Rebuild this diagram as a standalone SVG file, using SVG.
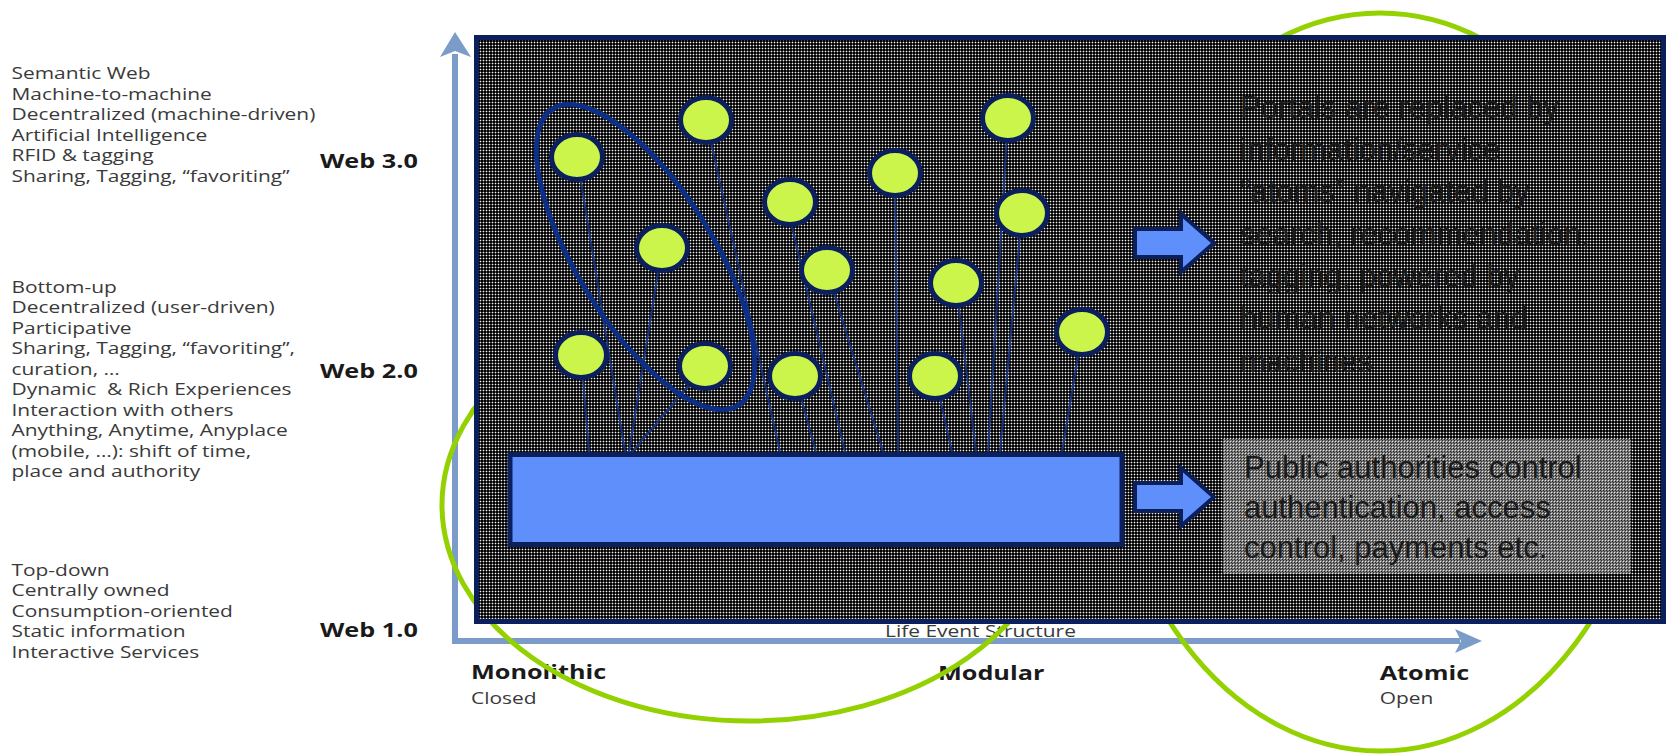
<svg xmlns="http://www.w3.org/2000/svg" width="1668" height="755" viewBox="0 0 1668 755">
<defs>
<style>
.lt{font-family:"Open Sans","Liberation Sans",sans-serif;font-size:15.5px;fill:#3a3a3a}
.wb{font-family:"Open Sans","Liberation Sans",sans-serif;font-size:18.7px;font-weight:700;fill:#1a1a1a}
.bt{font-family:"Liberation Sans",Arial,sans-serif;font-size:31px;fill:#1a1a1a}
.dot{fill:#cbf54b;stroke:#0a1f5c;stroke-width:5}
.stem{stroke:#16347f;stroke-width:2;fill:none}
.green{fill:none;stroke:#93d100;stroke-width:5}
.arrow{fill:#5f8ffb;stroke:#0a1f5c;stroke-width:4;stroke-linejoin:miter}
.axis{stroke:#7b9cc8;stroke-width:6;fill:none}
</style>
<pattern id="mesh" x="0" y="0" width="3" height="3" patternUnits="userSpaceOnUse">
<rect width="3" height="3" fill="#000"/>
<rect x="0" y="0" width="3" height="1" fill="#444"/>
<rect x="0" y="0" width="1" height="3" fill="#444"/>
<rect x="0" y="0" width="1" height="1" fill="#f0f0f0"/>
</pattern>
<pattern id="mesh2" x="0" y="0" width="3" height="3" patternUnits="userSpaceOnUse">
<rect width="3" height="3" fill="#7c7c7c"/>
<rect x="0" y="0" width="1" height="1" fill="#e6e6e6"/>
<rect x="1" y="1" width="1" height="1" fill="#222"/>
<rect x="2" y="2" width="1" height="1" fill="#333"/>
</pattern>
</defs>
<rect width="1668" height="755" fill="#fff"/>

<g id="left-labels" transform="scale(1.35 1)">
<g id="web3-text">
<text class="lt" x="8.5" y="79">Semantic Web</text>
<text class="lt" x="8.5" y="100">Machine-to-machine</text>
<text class="lt" x="8.5" y="120">Decentralized (machine-driven)</text>
<text class="lt" x="8.5" y="141">Artificial Intelligence</text>
<text class="lt" x="8.5" y="161">RFID &amp; tagging</text>
<text class="lt" x="8.5" y="182">Sharing, Tagging, “favoriting”</text>
<text class="wb" x="237" y="168">Web 3.0</text>
</g>
<g id="web2-text">
<text class="lt" x="8.5" y="293">Bottom-up</text>
<text class="lt" x="8.5" y="313.5">Decentralized (user-driven)</text>
<text class="lt" x="8.5" y="334">Participative</text>
<text class="lt" x="8.5" y="354.5">Sharing, Tagging, “favoriting”,</text>
<text class="lt" x="8.5" y="375">curation, …</text>
<text class="lt" x="8.5" y="395.5">Dynamic &#160;&amp; Rich Experiences</text>
<text class="lt" x="8.5" y="416">Interaction with others</text>
<text class="lt" x="8.5" y="436.5">Anything, Anytime, Anyplace</text>
<text class="lt" x="8.5" y="457">(mobile, …): shift of time,</text>
<text class="lt" x="8.5" y="477.5">place and authority</text>
<text class="wb" x="237" y="378">Web 2.0</text>
</g>
<g id="web1-text">
<text class="lt" x="8.5" y="576">Top-down</text>
<text class="lt" x="8.5" y="596.5">Centrally owned</text>
<text class="lt" x="8.5" y="617">Consumption-oriented</text>
<text class="lt" x="8.5" y="637.5">Static information</text>
<text class="lt" x="8.5" y="658">Interactive Services</text>
<text class="wb" x="237" y="637">Web 1.0</text>
</g>
<g id="x-labels">
<text class="lt" x="655.6" y="637">Life Event Structure</text>
<text class="wb" x="348.9" y="679">Monolithic</text>
<text class="lt" x="348.9" y="704">Closed</text>
<text class="wb" x="694.8" y="680">Modular</text>
<text class="wb" x="1022" y="680">Atomic</text>
<text class="lt" x="1022" y="704">Open</text>
</g>
</g>

<g id="axes">
<line class="axis" x1="455" y1="54" x2="455" y2="641"/>
<polygon points="440,57 455,32 471,57 455,51" fill="#7b9cc8"/>
<line class="axis" x1="452" y1="641" x2="1460" y2="641"/>
<polygon points="1455,629 1482,641 1455,653 1461,641" fill="#7b9cc8"/>
</g>

<g id="green-ellipses">
<ellipse class="green" cx="750" cy="505" rx="308" ry="216"/>
<ellipse class="green" cx="1380" cy="382" rx="277" ry="369"/>
</g>

<g id="panel">
<rect x="476.5" y="37.5" width="1187" height="584" fill="url(#mesh)" stroke="#0a1f5c" stroke-width="5"/>
</g>

<g id="connectors">
<line class="stem" x1="577" y1="157" x2="625" y2="452"/>
<line class="stem" x1="662" y1="248" x2="629" y2="452"/>
<line class="stem" x1="705" y1="366" x2="632" y2="452"/>
<line class="stem" x1="581" y1="355" x2="589" y2="452"/>
<line class="stem" x1="706" y1="120" x2="780" y2="452"/>
<line class="stem" x1="795" y1="376" x2="816" y2="452"/>
<line class="stem" x1="788" y1="210" x2="845" y2="452"/>
<line class="stem" x1="827" y1="270" x2="883" y2="452"/>
<line class="stem" x1="895" y1="173" x2="898" y2="452"/>
<line class="stem" x1="935" y1="376" x2="952" y2="452"/>
<line class="stem" x1="956" y1="283" x2="976" y2="452"/>
<line class="stem" x1="1008" y1="118" x2="988" y2="452"/>
<line class="stem" x1="1022" y1="213" x2="1000" y2="452"/>
<line class="stem" x1="1082" y1="332" x2="1062" y2="452"/>
</g>

<g id="cluster">
<ellipse cx="645.5" cy="257" rx="175" ry="68" transform="rotate(58 645.5 257)" fill="none" stroke="#0b2f86" stroke-width="5"/>
</g>

<g id="atoms">
<g id="atom1"><ellipse class="dot" cx="577" cy="157" rx="25.5" ry="22.5"/></g>
<g id="atom2"><ellipse class="dot" cx="706" cy="120" rx="25.5" ry="22.5"/></g>
<g id="atom3"><ellipse class="dot" cx="662" cy="248" rx="25.5" ry="22.5"/></g>
<g id="atom4"><ellipse class="dot" cx="790" cy="202" rx="25.5" ry="22.5"/></g>
<g id="atom5"><ellipse class="dot" cx="895" cy="173" rx="25.5" ry="22.5"/></g>
<g id="atom6"><ellipse class="dot" cx="1008" cy="118" rx="25.5" ry="22.5"/></g>
<g id="atom7"><ellipse class="dot" cx="1022" cy="213" rx="25.5" ry="22.5"/></g>
<g id="atom8"><ellipse class="dot" cx="827" cy="270" rx="25.5" ry="22.5"/></g>
<g id="atom9"><ellipse class="dot" cx="956" cy="283" rx="25.5" ry="22.5"/></g>
<g id="atom10"><ellipse class="dot" cx="1082" cy="332" rx="25.5" ry="22.5"/></g>
<g id="atom11"><ellipse class="dot" cx="581" cy="355" rx="25.5" ry="22.5"/></g>
<g id="atom12"><ellipse class="dot" cx="705" cy="366" rx="25.5" ry="22.5"/></g>
<g id="atom13"><ellipse class="dot" cx="795" cy="376" rx="25.5" ry="22.5"/></g>
<g id="atom14"><ellipse class="dot" cx="935" cy="376" rx="25.5" ry="22.5"/></g>
</g>

<g id="platform">
<rect x="510" y="454.5" width="612" height="90" fill="#5f8ffb" stroke="#0a1f5c" stroke-width="5"/>
</g>

<g id="arrow-top"><path class="arrow" d="M1135,229 H1181 V214 L1214,243 L1181,272 V257 H1135 Z"/></g>
<g id="arrow-bottom"><path class="arrow" d="M1135,483 H1181 V468 L1214,497 L1181,526 V511 H1135 Z"/></g>

<g id="text-atoms">
<text class="bt" x="1240" y="118">Portals are replaced by</text>
<text class="bt" x="1240" y="160">information/service</text>
<text class="bt" x="1240" y="202">“atoms” navigated by</text>
<text class="bt" x="1240" y="245">search, recommendation,</text>
<text class="bt" x="1240" y="287">tagging, powered by</text>
<text class="bt" x="1240" y="329">human networks and</text>
<text class="bt" x="1240" y="372">machines</text>
</g>

<g id="text-authorities">
<rect x="1223" y="439" width="408" height="135" fill="url(#mesh2)"/>
<text class="bt" x="1244" y="478">Public authorities control</text>
<text class="bt" x="1244" y="518">authentication, access</text>
<text class="bt" x="1244" y="558">control, payments etc.</text>
</g>
</svg>
